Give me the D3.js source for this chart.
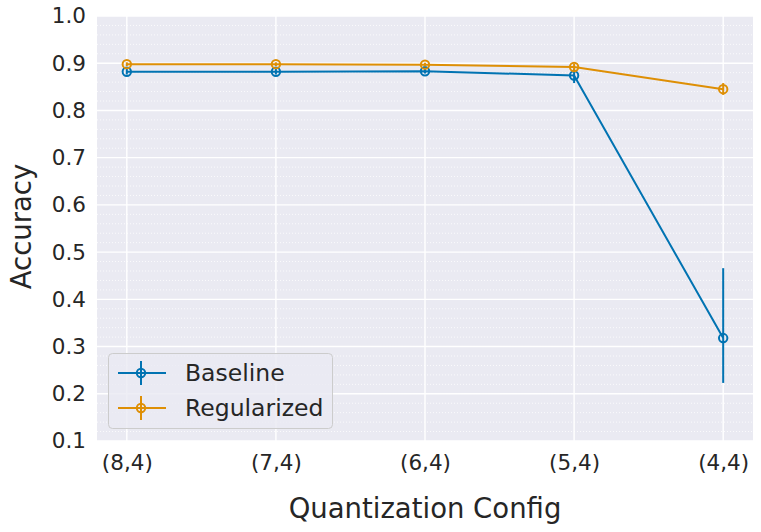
<!DOCTYPE html>
<html>
<head>
<meta charset="utf-8">
<script src="https://cdn.jsdelivr.net/npm/d3@7"></script>
<style>
body{margin:0;background:#fff;}
svg{display:block;font-family:"DejaVu Sans",sans-serif;}
</style>
</head>
<body>
<svg id="chart" width="761" height="532"></svg>
<script>
const categories = ["(8,4)","(7,4)","(6,4)","(5,4)","(4,4)"];
const seriesNames = ["Baseline","Regularized"];
const baselineMean = [0.882, 0.882, 0.883, 0.874, 0.318];
const baselineLow  = [0.876, 0.876, 0.878, 0.858, 0.223];
const baselineHigh = [0.888, 0.888, 0.888, 0.888, 0.466];
const regMean = [0.898, 0.898, 0.897, 0.892, 0.845];
const regLow  = [0.894, 0.894, 0.893, 0.885, 0.833];
const regHigh = [0.902, 0.902, 0.901, 0.899, 0.858];
const yTicks = [0.1,0.2,0.3,0.4,0.5,0.6,0.7,0.8,0.9,1.0];
const colors = ["#0173B2","#DE8F05"];

const series = [
  {name: seriesNames[0], mean: baselineMean, low: baselineLow, high: baselineHigh, color: colors[0]},
  {name: seriesNames[1], mean: regMean, low: regLow, high: regHigh, color: colors[1]}
];

const svg = d3.select("#chart");
const m = {left: 97, right: 8, top: 16, bottom: 91};
const W = 761, H = 532;
const pw = W - m.left - m.right, ph = H - m.top - m.bottom;

const x = d3.scaleLinear().domain([-0.2, categories.length - 1 + 0.2]).range([m.left, m.left + pw]);
const y = d3.scaleLinear().domain([0.1, 1.0]).range([m.top + ph, m.top]);

svg.append("rect").attr("x", m.left).attr("y", m.top).attr("width", pw).attr("height", ph).attr("fill", "#EAEAF2");

svg.append("defs").append("clipPath").attr("id","clip").append("rect")
  .attr("x", m.left).attr("y", m.top).attr("width", pw).attr("height", ph);

const grid = svg.append("g").attr("clip-path","url(#clip)");
// minor gridlines
const minor = d3.range(0.1, 1.0001, 0.02).filter(v => Math.abs(Math.round(v*10) - v*10) > 1e-6);
grid.selectAll(".minor").data(minor).enter().append("line")
  .attr("x1", m.left).attr("x2", m.left + pw)
  .attr("y1", d => y(d)).attr("y2", d => y(d))
  .attr("stroke", "#fff").attr("stroke-width", 0.8).attr("stroke-dasharray", "1,2");
// major gridlines
grid.selectAll(".hmaj").data(yTicks).enter().append("line")
  .attr("x1", m.left).attr("x2", m.left + pw)
  .attr("y1", d => y(d)).attr("y2", d => y(d))
  .attr("stroke", "#fff").attr("stroke-width", 1.4);
grid.selectAll(".vmaj").data(categories).enter().append("line")
  .attr("x1", (d,i) => x(i)).attr("x2", (d,i) => x(i))
  .attr("y1", m.top).attr("y2", m.top + ph)
  .attr("stroke", "#fff").attr("stroke-width", 1.4);

// axes
const yAxis = d3.axisLeft(y).tickValues(yTicks).tickFormat(d3.format(".1f")).tickSize(0).tickPadding(11);
const yg = svg.append("g").attr("transform", `translate(${m.left},0)`).call(yAxis);
yg.select(".domain").remove();
yg.selectAll("text").attr("font-size", 21.5).attr("fill", "#262626").attr("font-family", "DejaVu Sans");

const xAxis = d3.axisBottom(x).tickValues(d3.range(categories.length)).tickFormat(i => categories[i]).tickSize(0).tickPadding(14);
const xg = svg.append("g").attr("transform", `translate(0,${m.top + ph})`).call(xAxis);
xg.select(".domain").remove();
xg.selectAll("text").attr("font-size", 21.5).attr("fill", "#262626").attr("font-family", "DejaVu Sans");

svg.append("text").attr("x", m.left + pw/2).attr("y", 518).attr("text-anchor","middle")
  .attr("font-size", 27.5).attr("fill", "#262626").text("Quantization Config");
svg.append("text").attr("transform", `translate(21,${m.top + ph/2 - 2}) rotate(-90)`).attr("text-anchor","middle")
  .attr("dy", "0.35em")
  .attr("font-size", 27.5).attr("fill", "#262626").text("Accuracy");

// series
const plot = svg.append("g").attr("clip-path","url(#clip)");
series.forEach(s => {
  const line = d3.line().x((d,i) => x(i)).y(d => y(d));
  plot.append("path").datum(s.mean).attr("d", line).attr("fill","none")
    .attr("stroke", s.color).attr("stroke-width", 2);
  plot.selectAll(null).data(s.mean).enter().append("line")
    .attr("x1", (d,i) => x(i)).attr("x2", (d,i) => x(i))
    .attr("y1", (d,i) => y(s.low[i])).attr("y2", (d,i) => y(s.high[i]))
    .attr("stroke", s.color).attr("stroke-width", 2);
  plot.selectAll(null).data(s.mean).enter().append("circle")
    .attr("cx", (d,i) => x(i)).attr("cy", d => y(d)).attr("r", 4.2)
    .attr("fill","none").attr("stroke", s.color).attr("stroke-width", 2);
});

// legend
const lg = svg.append("g");
lg.append("rect").attr("x", 108.5).attr("y", 353.5).attr("width", 224).attr("height", 75)
  .attr("rx", 4).attr("fill", "#EAEAF2").attr("fill-opacity", 0.8).attr("stroke", "#CCCCCC").attr("stroke-width", 1);
series.forEach((s, k) => {
  const cy = 373 + k * 35;
  lg.append("line").attr("x1", 118).attr("x2", 166).attr("y1", cy).attr("y2", cy)
    .attr("stroke", s.color).attr("stroke-width", 2);
  lg.append("line").attr("x1", 141).attr("x2", 141).attr("y1", cy - 12).attr("y2", cy + 12)
    .attr("stroke", s.color).attr("stroke-width", 2);
  lg.append("circle").attr("cx", 141).attr("cy", cy).attr("r", 4.2)
    .attr("fill","none").attr("stroke", s.color).attr("stroke-width", 2);
  lg.append("text").attr("x", 185).attr("y", cy).attr("dy", "0.35em")
    .attr("font-size", 23.5).attr("fill", "#262626").text(s.name);
});
</script>
</body>
</html>
